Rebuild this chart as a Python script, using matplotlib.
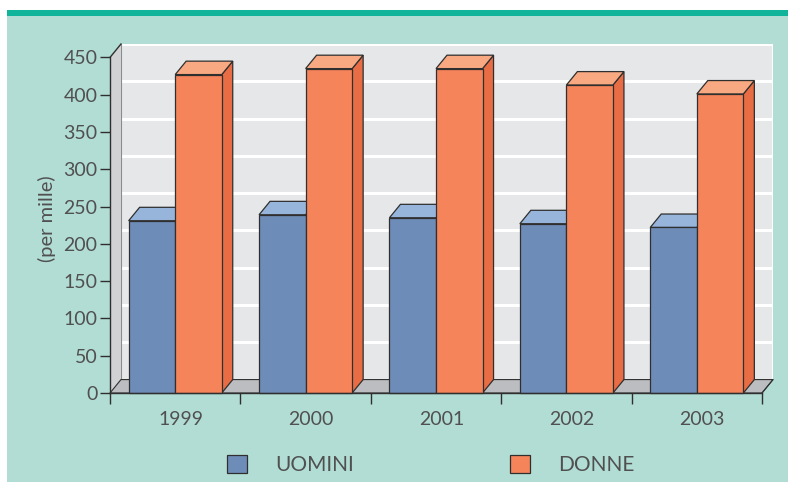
import matplotlib
matplotlib.use("Agg")
import matplotlib.pyplot as plt
from matplotlib.patches import Rectangle, Polygon, Patch
import numpy as np

# data (per mille)
years = ["1999", "2000", "2001", "2002", "2003"]
uomini = [231, 239, 235, 227, 222]
donne = [427, 435, 435, 413, 401]
series_names = ["UOMINI", "DONNE"]

# colours
panel_green = "#b2ddd4"
teal_strip = "#10b49a"
wall_grey = "#e6e7e9"
side_wall = "#d1d2d4"
floor_grey = "#bcbdc0"
edge = "#2f2f2f"
text_col = "#505050"
front_cols = ["#6e8cb8", "#f5845a"]
top_cols = ["#97b5da", "#f8a981"]
side_cols = ["#5a76a0", "#e86d44"]

# 3d depth offsets in data units
ddx = 0.0842
ddy = 18.0
bar_w = 0.357
ymax = 450
font = {"family": "Lato", "weight": "normal"}

fig = plt.figure(figsize=(7.88, 4.82), dpi=100)
fig.patch.set_facecolor("white")
fig.add_artist(Rectangle((7 / 788, 0), 1, 467 / 482, transform=fig.transFigure,
                         facecolor=panel_green, edgecolor="none", zorder=-2))
fig.add_artist(Rectangle((7 / 788, 466 / 482), 1, 6 / 482, transform=fig.transFigure,
                         facecolor=teal_strip, edgecolor="none", zorder=-1))

ax = fig.add_axes([110 / 788, 89 / 482, 663 / 788, 349 / 482])
ax.set_facecolor("none")
n = len(years)
ax.set_xlim(0, n + ddx)
ax.set_ylim(0, ymax + ddy)

# back wall with gridlines
ax.add_patch(Polygon([(ddx, ddy), (n + ddx, ddy), (n + ddx, ymax + ddy), (ddx, ymax + ddy)],
                     closed=True, facecolor=wall_grey, edgecolor="white", lw=1.5, zorder=1))
for v in range(50, ymax + 1, 50):
    ax.plot([ddx, n + ddx], [v + ddy, v + ddy], color="white", lw=2.2, zorder=1.5,
            solid_capstyle="butt")
ax.plot([ddx, ddx], [ddy, ymax + ddy], color="#8a8b8d", lw=0.8, zorder=1.6)

# left wall
ax.add_patch(Polygon([(0, 0), (ddx, ddy), (ddx, ymax + ddy), (0, ymax)], closed=True,
                     facecolor=side_wall, edgecolor="none", zorder=2, clip_on=False))
ax.plot([0, ddx], [ymax, ymax + ddy], color=edge, lw=1, zorder=2.5, clip_on=False)

# floor
ax.add_patch(Polygon([(0, 0), (n, 0), (n + ddx, ddy), (ddx, ddy)], closed=True,
                     facecolor=floor_grey, edgecolor=edge, lw=0.8, zorder=2, clip_on=False))

# bars
for i in range(n):
    c = i + 0.5
    for j, vals in enumerate([uomini, donne]):
        x0 = c - bar_w + j * bar_w
        x1 = x0 + bar_w
        v = vals[i]
        z = 3 + i + j * 0.1
        ax.add_patch(Polygon([(x1, 0), (x1 + ddx, ddy), (x1 + ddx, v + ddy), (x1, v)],
                             closed=True, facecolor=side_cols[j], edgecolor=edge, lw=0.9,
                             zorder=z, clip_on=False))
        ax.add_patch(Polygon([(x0, v), (x1, v), (x1 + ddx, v + ddy), (x0 + ddx, v + ddy)],
                             closed=True, facecolor=top_cols[j], edgecolor=edge, lw=0.9,
                             zorder=z, clip_on=False))
        ax.add_patch(Rectangle((x0, 0), bar_w, v, facecolor=front_cols[j], edgecolor=edge,
                               lw=0.9, zorder=z + 0.05, clip_on=False))

# axes lines and ticks
for s in ["top", "right"]:
    ax.spines[s].set_visible(False)
ax.spines["left"].set_bounds(0, ymax)
ax.spines["bottom"].set_bounds(0, n)
for s in ["left", "bottom"]:
    ax.spines[s].set_color(edge)
    ax.spines[s].set_linewidth(1)
    ax.spines[s].set_zorder(20)
ax.plot([n, n + ddx], [0, ddy], color=edge, lw=0.8, zorder=20, clip_on=False)

ax.set_yticks(range(0, ymax + 1, 50))
ax.set_yticks(range(0, ymax + 1, 10), minor=True)
ax.tick_params(axis="y", which="major", direction="out", length=7, width=1, color=edge,
               labelsize=14, labelcolor=text_col, pad=2)
ax.tick_params(axis="y", which="minor", direction="in", length=2, width=0.6, color="#555555")

ax.set_xticks(np.arange(0, n + 1))
ax.set_xticklabels([])
ax.set_xticks(np.arange(n) + 0.5 + ddx / 2, minor=True)
ax.set_xticklabels(years, minor=True)
ax.tick_params(axis="x", which="major", direction="out", length=8, width=1, color=edge)
ax.tick_params(axis="x", which="minor", length=0, labelsize=14, labelcolor=text_col, pad=13)

for lab in ax.get_yticklabels() + ax.get_xticklabels(minor=True):
    lab.set_fontfamily(font["family"])
    lab.set_fontweight(font["weight"])

ax.set_ylabel("(per mille)", fontsize=14.5, color=text_col, family=font["family"],
              fontweight=font["weight"], labelpad=5)

handles = [Patch(facecolor=front_cols[k], edgecolor=edge, lw=0.9) for k in range(2)]
fig.legend(handles, series_names, loc="center", bbox_to_anchor=(431 / 788, 17 / 482),
           ncol=2, frameon=False, handlelength=0.95, handleheight=0.95,
           handletextpad=1.35, columnspacing=7.5,
           prop={"family": font["family"], "weight": font["weight"], "size": 15},
           labelcolor=text_col)

fig.savefig("out.png", dpi=100)
